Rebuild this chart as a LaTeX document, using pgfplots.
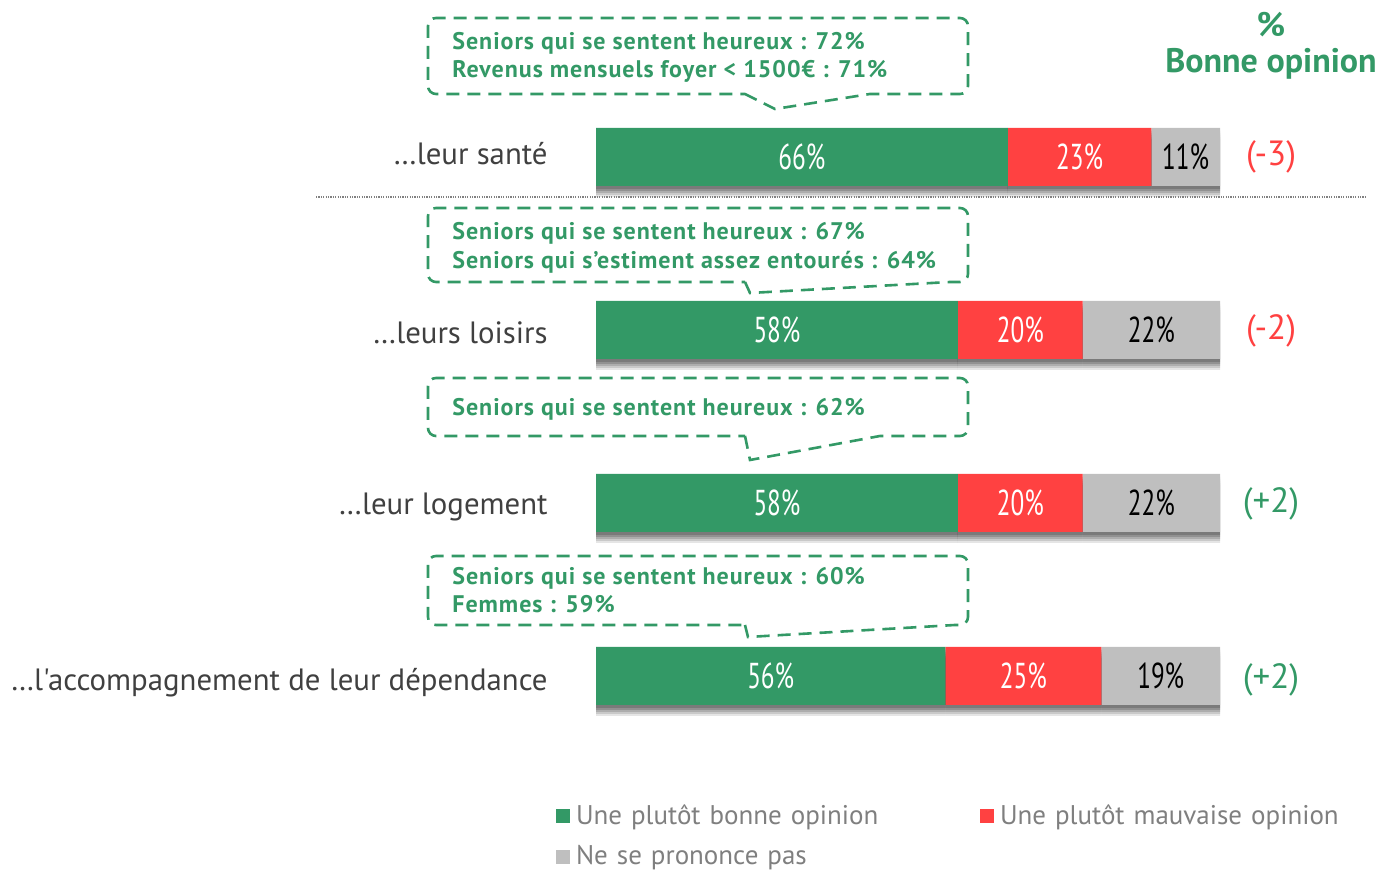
\documentclass[border=0pt]{standalone}
\usepackage{pgfplots}
\pgfplotsset{compat=1.18}
\usepackage{pgfplotstable}
\usepackage{fontspec}
\setmainfont{PT Sans}
\newfontfamily\barfont[FakeStretch=0.7]{PT Sans}
\newfontfamily\cfont[LetterSpace=4]{PT Sans}
\newfontfamily\catfont[Ligatures=TeXOff]{PT Sans}
\definecolor{cgreen}{HTML}{339966}
\definecolor{cred}{HTML}{FF4141}
\definecolor{cgray}{HTML}{BFBFBF}
\definecolor{cattext}{HTML}{404040}
\definecolor{legtext}{HTML}{7F7F7F}
\definecolor{dotgray}{HTML}{808080}

\pgfplotstableread{
y good bad nsp gm bm nm
0 66 23 11 33 77.5 94.5
1 58 20 22 29 68 89
2 58 20 22 29 68 89
3 56 25 19 28 68.5 90.5
}\data

\tikzset{
  shadowed/.style={
    preaction={fill=black, opacity=0.10, transform canvas={yshift=-5.5pt}},
    preaction={fill=black, opacity=0.12, transform canvas={yshift=-4.5pt}},
    preaction={fill=black, opacity=0.14, transform canvas={yshift=-3.5pt}},
    preaction={fill=black, opacity=0.16, transform canvas={yshift=-2.5pt}},
    preaction={fill=black, opacity=0.16, transform canvas={yshift=-1.5pt}}
  },
  callout/.style={draw=cgreen, line width=1.3pt, dash pattern=on 6.5pt off 4pt},
  ctext/.style={anchor=base west, text=cgreen, font=\cfont\bfseries\fontsize{12}{13}\selectfont, inner sep=0pt},
  cat/.style={anchor=east, text=cattext, font=\catfont\fontsize{15.4}{16}\selectfont, inner sep=0pt},
  rv/.style={anchor=center, font=\fontsize{17.5}{18}\selectfont, inner sep=0pt}
}

\pgfplotsset{
  common/.style={
    at={(0,0)}, anchor=south west, scale only axis,
    width=691pt, height=435.5pt,
    xmin=-95.513, xmax=125.962, ymin=-0.9075, ymax=4.1272,
    y dir=reverse, hide axis, clip=false
  }
}

\begin{document}
\begin{tikzpicture}
\begin{axis}[common,
  xbar stacked, bar width=29pt,
  legend columns=2,
  legend style={at={(axis cs:-6.41,3.734)}, anchor=north west, draw=none, fill=none,
    inner sep=0pt, outer sep=0pt, row sep=7pt,
    font=\fontsize{13.5}{14}\selectfont, text=legtext,
    nodes={inner xsep=3pt, inner ysep=1pt, text width=199pt, align=left}},
]
\addplot[fill=cgreen, draw=none, shadowed,
  legend image code/.code={\pgfsetfillcolor{cgreen}\pgfpathrectangle{\pgfpoint{0pt}{-3.5pt}}{\pgfpoint{7pt}{7pt}}\pgfusepath{fill}}]
  table[x=good, y=y]{\data};
\addlegendentry{Une plutôt bonne opinion}
\addplot[fill=cred, draw=none, shadowed,
  legend image code/.code={\pgfsetfillcolor{cred}\pgfpathrectangle{\pgfpoint{0pt}{-3.5pt}}{\pgfpoint{7pt}{7pt}}\pgfusepath{fill}}]
  table[x=bad, y=y]{\data};
\addlegendentry{Une plutôt mauvaise opinion}
\addplot[fill=cgray, draw=none, shadowed,
  legend image code/.code={\pgfsetfillcolor{cgray}\pgfpathrectangle{\pgfpoint{0pt}{-3.5pt}}{\pgfpoint{7pt}{7pt}}\pgfusepath{fill}}]
  table[x=nsp, y=y]{\data};
\addlegendentry{Ne se prononce pas}
\end{axis}

\begin{axis}[common]
\addplot[draw=none, mark=none, point meta=explicit symbolic,
  nodes near coords={\pgfplotspointmeta\%},
  every node near coord/.style={anchor=center, text=white, font=\barfont\fontsize{18}{18}\selectfont}]
  table[x=gm, y=y, meta=good]{\data};
\addplot[draw=none, mark=none, point meta=explicit symbolic,
  nodes near coords={\pgfplotspointmeta\%},
  every node near coord/.style={anchor=center, text=white, font=\barfont\fontsize{18}{18}\selectfont}]
  table[x=bm, y=y, meta=bad]{\data};
\addplot[draw=none, mark=none, point meta=explicit symbolic,
  nodes near coords={\pgfplotspointmeta\%},
  every node near coord/.style={anchor=center, text=black, font=\barfont\fontsize{18}{18}\selectfont}]
  table[x=nm, y=y, meta=nsp]{\data};
\end{axis}

\begin{scope}[shift={(0pt,435.5pt)}, x=0.5pt, y=-0.5pt]
  % dotted separator
  \draw[dotgray, line width=0.6pt, dash pattern=on 0.6pt off 0.6pt] (316,197) -- (1366,197);
  % callouts
  \draw[callout] (745,94) -- (775,109) -- (870,94) [rounded corners=4pt] -- (968,94) -- (968,18) -- (428,18) -- (428,94) -- (745,94);
  \node[ctext] at (452,50) {Seniors qui se sentent heureux : 72\%};
  \node[ctext] at (452,78) {Revenus mensuels foyer < 1500€ : 71\%};

  \draw[callout] (745,282) -- (750,293) -- (950,282) [rounded corners=4pt] -- (968,282) -- (968,208) -- (428,208) -- (428,282) -- (745,282);
  \node[ctext] at (452,240) {Seniors qui se sentent heureux : 67\%};
  \node[ctext] at (452,269) {Seniors qui s’estiment assez entourés : 64\%};

  \draw[callout] (745,436) -- (750,460) -- (880,436) [rounded corners=4pt] -- (968,436) -- (968,378) -- (428,378) -- (428,436) -- (745,436);
  \node[ctext] at (452,416) {Seniors qui se sentent heureux : 62\%};

  \draw[callout] (745,625) -- (748,637) -- (955,625) [rounded corners=4pt] -- (968,625) -- (968,556) -- (428,556) -- (428,625) -- (745,625);
  \node[ctext] at (452,585) {Seniors qui se sentent heureux : 60\%};
  \node[ctext] at (452,613) {Femmes : 59\%};

  % category labels
  \node[cat] at (548,154) {…leur santé};
  \node[cat] at (548,333) {…leurs loisirs};
  \node[cat] at (548,507) {…leur logement};
  \node[cat] at (548,683) {…l'accompagnement de leur dépendance};

  % header
  \node[text=cgreen, font=\bfseries\fontsize{17}{18}\selectfont] at (1271,25) {\%};
  \node[text=cgreen, font=\bfseries\fontsize{17}{18}\selectfont] at (1271,64) {Bonne opinion};

  % evolutions
  \node[rv, text=cred] at (1271,157) {(-3)};
  \node[rv, text=cred] at (1271,331) {(-2)};
  \node[rv, text=cgreen] at (1271,504) {(+2)};
  \node[rv, text=cgreen] at (1271,680) {(+2)};
\end{scope}

\pgfresetboundingbox
\useasboundingbox (0,0) rectangle (691pt,435.5pt);
\end{tikzpicture}
\end{document}
